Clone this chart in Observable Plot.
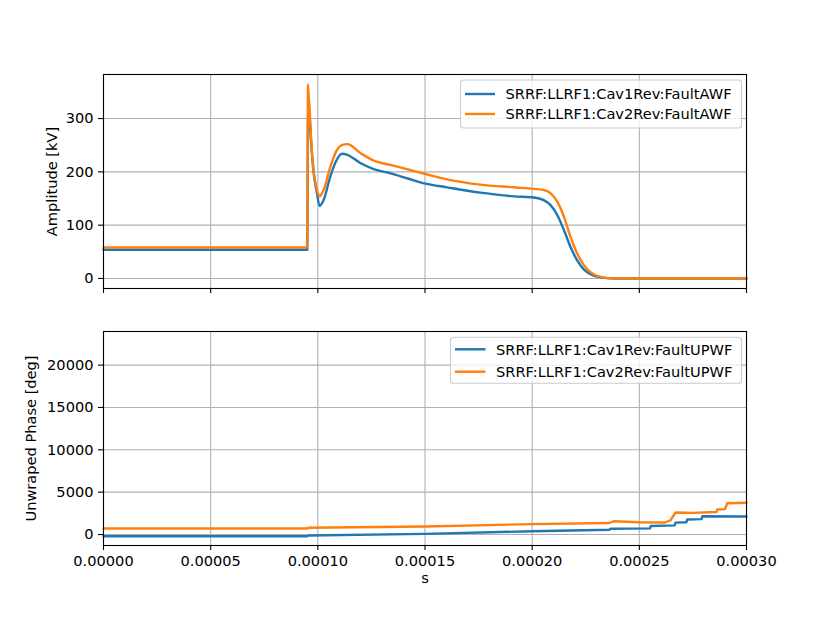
<!DOCTYPE html>
<html><head><meta charset="utf-8">
<script src="https://cdn.jsdelivr.net/npm/d3@7"></script>
<script src="https://cdn.jsdelivr.net/npm/@observablehq/plot@0.6"></script>
<style>
body{margin:0;background:#fff;font-family:"DejaVu Sans",sans-serif;}
#wrap{position:relative;width:830px;height:623px;overflow:hidden;}
#top,#bot{position:absolute;left:0;}
#top{top:0}#bot{top:310px}
</style></head><body><div id="wrap"><div id="top"></div><div id="bot"></div></div>
<script>
// ---- data ----
const xTicks = [0, 0.00005, 0.0001, 0.00015, 0.0002, 0.00025, 0.0003];
const ampTicks = [0, 100, 200, 300];
const phaseTicks = [0, 5000, 10000, 15000, 20000];

const ampLabels = ["SRRF:LLRF1:Cav1Rev:FaultAWF", "SRRF:LLRF1:Cav2Rev:FaultAWF"];
const phaseLabels = ["SRRF:LLRF1:Cav1Rev:FaultUPWF", "SRRF:LLRF1:Cav2Rev:FaultUPWF"];
const colors = ["#1f77b4", "#ff7f0e"];

const ampTime = [0, 0.0000951, 0.0000954, 0.0000957, 0.0000962, 0.0000968, 0.0000980, 0.0000996, 0.0001008, 0.0001027, 0.0001058, 0.0001085, 0.0001112, 0.0001138, 0.0001200, 0.0001261, 0.0001339, 0.0001416, 0.0001502, 0.0001603, 0.0001759, 0.0001914, 0.0002008, 0.0002054, 0.0002085, 0.0002117, 0.0002148, 0.0002179, 0.0002210, 0.0002241, 0.0002272, 0.0002319, 0.0002381, 0.0003];
const ampCav1 = [54, 54, 300, 325, 300, 260, 200, 160, 136, 147, 191, 220, 234, 232, 216, 205, 197, 188, 178, 171, 161, 154, 152, 147, 138, 119, 91, 59, 34, 17, 8, 2, 0, 0];
const ampCav2 = [58, 58, 364, 345, 316, 266, 203, 166, 154, 166, 209, 238, 250, 252, 235, 221, 213, 205, 196, 186, 176, 171, 168, 166, 160, 144, 116, 78, 47, 25, 12, 3, 0, 0];

const phaseTime1 = [0, 0.0000952, 0.0000956, 0.00015, 0.0002, 0.000236, 0.0002366, 0.000255, 0.0002553, 0.0002665, 0.0002669, 0.000272, 0.0002724, 0.000279, 0.0002794, 0.0003];
const phaseCav1 = [-200, -200, -110, 80, 380, 560, 680, 720, 1000, 1080, 1400, 1450, 1780, 1820, 2150, 2130];
const phaseTime2 = [0, 0.0000952, 0.0000956, 0.00015, 0.0002, 0.000236, 0.000238, 0.00025, 0.000262, 0.0002646, 0.0002669, 0.000275, 0.000286, 0.0002864, 0.000290, 0.000291, 0.0003];
const phaseCav2 = [710, 710, 800, 950, 1230, 1360, 1560, 1450, 1420, 1700, 2600, 2550, 2650, 2950, 3000, 3700, 3750];

// ---- build ----
const amp1 = ampTime.map((t, i) => ({t, v: ampCav1[i]}));
const amp2 = ampTime.map((t, i) => ({t, v: ampCav2[i]}));
const ph1 = phaseTime1.map((t, i) => ({t, v: phaseCav1[i]}));
const ph2 = phaseTime2.map((t, i) => ({t, v: phaseCav2[i]}));

const FS = 14.6;
const font = {fontFamily: "DejaVu Sans", fontSize: FS + "px", background: "transparent", color: "#000", overflow: "visible"};
const gridStyle = {stroke: "#b0b0b0", strokeOpacity: 1, strokeWidth: 1.1};
const xFmt = d3.format(".5f");
const yFmt = d3.format("d");

const topPlot = Plot.plot({
  width: 830, height: 310,
  marginLeft: 103, marginRight: 84, marginTop: 74, marginBottom: 22,
  style: font,
  x: {domain: [0, 0.0003]},
  y: {domain: [-18.8, 382.6]},
  marks: [
    Plot.gridX(xTicks, gridStyle),
    Plot.gridY(ampTicks, gridStyle),
    Plot.line(amp1, {x: "t", y: "v", stroke: colors[0], strokeWidth: 2.4, curve: "monotone-x"}),
    Plot.line(amp2, {x: "t", y: "v", stroke: colors[1], strokeWidth: 2.4, curve: "monotone-x"}),
    Plot.axisX(xTicks, {tickSize: 5, tickFormat: () => "", label: null, strokeWidth: 1.1}),
    Plot.axisY(ampTicks, {tickSize: 5, tickPadding: 5, tickFormat: yFmt, label: "Amplitude [kV]", labelArrow: "none", labelAnchor: "center", labelOffset: 57, strokeWidth: 1.1}),
    Plot.frame({stroke: "#000", strokeWidth: 1.1})
  ]
});

const botPlot = Plot.plot({
  width: 830, height: 313,
  marginLeft: 103, marginRight: 84, marginTop: 21, marginBottom: 78,
  style: font,
  x: {domain: [0, 0.0003]},
  y: {domain: [-1297, 23970]},
  marks: [
    Plot.gridX(xTicks, gridStyle),
    Plot.gridY(phaseTicks, gridStyle),
    Plot.line(ph1, {x: "t", y: "v", stroke: colors[0], strokeWidth: 2.4}),
    Plot.line(ph2, {x: "t", y: "v", stroke: colors[1], strokeWidth: 2.4}),
    Plot.axisX(xTicks, {tickSize: 5, tickPadding: 5, tickFormat: xFmt, label: "s", labelArrow: "none", labelAnchor: "center", labelOffset: 37, strokeWidth: 1.1}),
    Plot.axisY(phaseTicks, {tickSize: 5, tickPadding: 5, tickFormat: yFmt, label: "Unwraped Phase [deg]", labelArrow: "none", labelAnchor: "center", labelOffset: 78, strokeWidth: 1.1}),
    Plot.frame({stroke: "#000", strokeWidth: 1.1})
  ]
});

document.getElementById("top").appendChild(topPlot);
document.getElementById("bot").appendChild(botPlot);

function addLegend(svgNode, box, lineX, textX, rowsY, labels) {
  const svg = d3.select(svgNode);
  const g = svg.append("g").attr("text-anchor", "start");
  g.append("rect").attr("x", box[0]).attr("y", box[1]).attr("width", box[2]).attr("height", box[3])
    .attr("rx", 3).attr("fill", "#fff").attr("fill-opacity", 0.8).attr("stroke", "#cccccc").attr("stroke-width", 1.1);
  labels.forEach((lab, i) => {
    g.append("line").attr("x1", lineX[0]).attr("x2", lineX[1]).attr("y1", rowsY[i]).attr("y2", rowsY[i])
      .attr("stroke", colors[i]).attr("stroke-width", 2.4);
    g.append("text").attr("x", textX).attr("y", rowsY[i]).attr("dy", "0.36em").attr("text-anchor", "start")
      .attr("font-family", "DejaVu Sans").attr("font-size", FS).attr("fill", "#000").text(lab);
  });
}
addLegend(topPlot, [460.5, 80, 281, 48], [465, 495], 505.5, [94, 114], ampLabels);
addLegend(botPlot, [450.5, 27.3, 291, 46], [455, 485.5], 496, [39.3, 61.7], phaseLabels);
</script>
</body></html>
